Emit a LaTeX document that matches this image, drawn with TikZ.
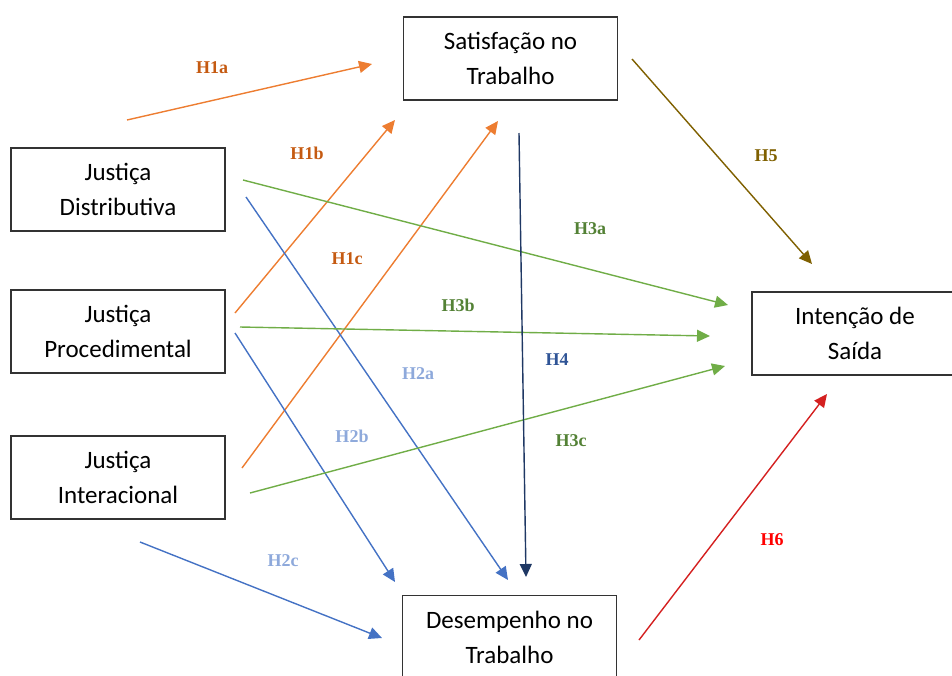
\documentclass[tikz,border=0pt]{standalone}
\usepackage{fontspec}
\setmainfont{Carlito}
\newfontfamily\hypfont{Liberation Serif}
\usetikzlibrary{arrows.meta}
\definecolor{horange}{HTML}{ED7D31}
\definecolor{horangetxt}{HTML}{C55A11}
\definecolor{hblue}{HTML}{4472C4}
\definecolor{hbluetxt}{HTML}{8EA9DB}
\definecolor{hgreen}{HTML}{70AD47}
\definecolor{hgreentxt}{HTML}{538135}
\definecolor{hnavy}{HTML}{1F3864}
\definecolor{hnavytxt}{HTML}{2F5496}
\definecolor{holive}{HTML}{7F6000}
\definecolor{hred}{HTML}{D42020}
\definecolor{hredtxt}{HTML}{FF0000}

\begin{document}
\begin{tikzpicture}[x=1pt,y=-1pt,
                       main node/.style={rectangle,draw=black!80,line width=1.4pt,fill=white,
                                         align=center,font=\fontsize{25}{35}\selectfont,
                                         minimum width=214pt,minimum height=83pt,inner sep=2pt},
                       hyp/.style={font=\hypfont\bfseries\fontsize{18}{20}\selectfont},
                       hyp arrow/.style={line width=1.4pt,-{Triangle[length=13pt,width=12pt]}}
                           ]
   \useasboundingbox (0,0) rectangle (952,675);
   \node[main node] (sat)   at (510.5,58.5)  {Satisfação no\\Trabalho};
   \node[main node] (dist)  at (118,189.5)   {Justiça\\Distributiva};
   \node[main node] (proc)  at (118,331.5)   {Justiça\\Procedimental};
   \node[main node] (inter) at (118,477.5)   {Justiça\\Interacional};
   \node[main node,minimum width=206pt] (saida) at (855,333.5) {Intenção de\\Saída};
   \node[main node] (desemp) at (509.5,637)  {Desempenho no\\Trabalho};

   % arrow end points
   \coordinate (h1a s) at (127,120);  \coordinate (h1a e) at (372,64);
   \coordinate (h1b s) at (235,313);  \coordinate (h1b e) at (395,120);
   \coordinate (h1c s) at (242,468);  \coordinate (h1c e) at (498,121);
   \coordinate (h2a s) at (246,197);  \coordinate (h2a e) at (508,580);
   \coordinate (h2b s) at (235,333);  \coordinate (h2b e) at (395,582);
   \coordinate (h2c s) at (140,542);  \coordinate (h2c e) at (382,638);
   \coordinate (h3a s) at (243,180);  \coordinate (h3a e) at (728,305);
   \coordinate (h3b s) at (240,327);  \coordinate (h3b e) at (710,336);
   \coordinate (h3c s) at (250,493);  \coordinate (h3c e) at (725,366);
   \coordinate (h4 s)  at (519,133);  \coordinate (h4 e)  at (526,577);
   \coordinate (h5 s)  at (632,59);   \coordinate (h5 e)  at (812,264);
   \coordinate (h6 s)  at (639,640);  \coordinate (h6 e)  at (827,394);

   \draw[hyp arrow,horange] (h1a s) -- (h1a e);
   \draw[hyp arrow,horange] (h1b s) -- (h1b e);
   \draw[hyp arrow,horange] (h1c s) -- (h1c e);
   \draw[hyp arrow,hblue] (h2a s) -- (h2a e);
   \draw[hyp arrow,hblue] (h2b s) -- (h2b e);
   \draw[hyp arrow,hblue] (h2c s) -- (h2c e);
   \draw[hyp arrow,hgreen] (h3a s) -- (h3a e);
   \draw[hyp arrow,hgreen] (h3b s) -- (h3b e);
   \draw[hyp arrow,hgreen] (h3c s) -- (h3c e);
   \draw[hyp arrow,hnavy] (h4 s) -- (h4 e);
   \draw[hyp arrow,holive] (h5 s) -- (h5 e);
   \draw[hyp arrow,hred] (h6 s) -- (h6 e);

   % labels
   \node[hyp,text=horangetxt] (l1a) at (212,68)  {H1a};
   \node[hyp,text=horangetxt] (l1b) at (307,153) {H1b};
   \node[hyp,text=horangetxt] (l1c) at (347,259) {H1c};
   \node[hyp,text=hbluetxt]   (l2a) at (418,374) {H2a};
   \node[hyp,text=hbluetxt]   (l2b) at (352,436) {H2b};
   \node[hyp,text=hbluetxt]   (l2c) at (283,561) {H2c};
   \node[hyp,text=hgreentxt]  (l3a) at (590,229) {H3a};
   \node[hyp,text=hgreentxt]  (l3b) at (458,305) {H3b};
   \node[hyp,text=hgreentxt]  (l3c) at (571,441) {H3c};
   \node[hyp,text=hnavytxt]   (l4)  at (557,360) {H4};
   \node[hyp,text=holive]     (l5)  at (766,156) {H5};
   \node[hyp,text=hredtxt]    (l6)  at (772,540) {H6};
\end{tikzpicture}
\end{document}
